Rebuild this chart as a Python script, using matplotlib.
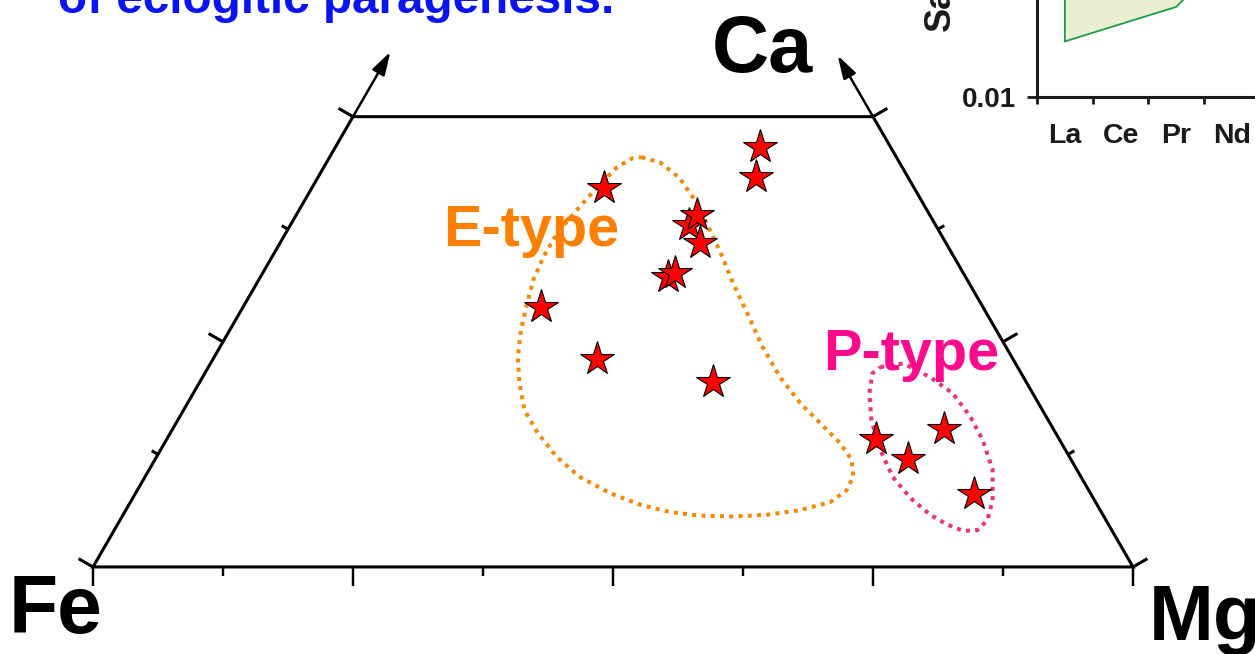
import numpy as np
import matplotlib.pyplot as plt

plt.rcParams['font.family'] = ['Liberation Sans', 'DejaVu Sans']
plt.rcParams['font.weight'] = 'bold'

# garnet inclusions, mol% Ca and Mg (Fe is the remainder)
star_ca = [46.6, 43.3, 42.1, 38.0, 39.1, 36.0, 32.2, 32.6, 28.9, 23.1, 20.5,
           14.2, 12.0, 15.3, 8.1]
star_mg = [40.8, 42.1, 28.1, 38.3, 38.5, 40.4, 39.2, 39.7, 28.6, 36.9, 49.4,
           68.2, 72.4, 74.2, 80.7]

# field outlines (Ca, Mg)
e_field_ca = [45.5, 44.9, 43.2, 41.0, 38.2, 34.9, 31.5, 28.2, 24.4, 21.1, 18.2,
              16.0, 13.8, 11.9, 10.0, 8.5, 7.2, 6.3, 5.8, 5.6, 5.7, 6.1, 6.9,
              8.2, 10.0, 12.2, 14.9, 17.4, 20.4, 23.3, 26.3, 29.3, 31.9, 34.4,
              37.1, 39.6, 42.2, 44.4, 45.4]
e_field_mg = [30.0, 32.1, 34.8, 37.2, 39.9, 42.9, 45.8, 48.8, 52.2, 55.5, 58.9,
              61.9, 64.9, 67.0, 68.1, 68.2, 67.3, 64.8, 61.9, 58.8, 55.5, 52.4,
              49.2, 45.6, 41.8, 38.5, 35.3, 32.8, 30.8, 29.2, 28.0, 27.1, 26.4,
              26.1, 26.1, 26.7, 27.4, 28.2, 29.2]
p_field_ca = [22.2, 22.6, 21.1, 19.3, 16.7, 14.1, 10.8, 7.4, 5.2, 4.1, 4.0, 4.7,
              5.8, 7.7, 10.0, 13.0, 16.3, 19.3, 21.5]
p_field_mg = [64.6, 66.6, 69.9, 73.0, 76.0, 78.5, 81.1, 82.8, 83.4, 83.0, 81.7,
              79.8, 77.6, 74.7, 71.9, 69.2, 66.7, 65.0, 64.2]

# REE envelope for the inset
ree = ['La', 'Ce', 'Pr', 'Nd']
ree_low = [0.032, 0.046, 0.066, 0.21]
ree_high = [3.0, 4.0, 5.0, 6.0]


def tern(ca, mg):
    ca = np.asarray(ca, float) / 100
    mg = np.asarray(mg, float) / 100
    return mg + ca / 2, ca * np.sqrt(3) / 2


fig = plt.figure(figsize=(12.55, 6.54), dpi=100)
ax = fig.add_axes([0, 0, 1, 1])
ax.set_xlim(-0.0894, 1.1173)
ax.set_ylim(-0.0837, 0.5452)
ax.axis('off')

lw = 2.2
# truncated triangle, Ca <= 50
frame = [tern(50, 0), tern(0, 0), tern(0, 100), tern(50, 50), tern(50, 0)]
ax.plot([p[0] for p in frame], [p[1] for p in frame], color='k', lw=lw,
        solid_joinstyle='miter', solid_capstyle='butt')

long_t, short_t = 0.016, 0.007
c30, s30 = np.cos(np.pi / 6), np.sin(np.pi / 6)
for v in np.arange(0, 100.1, 12.5):
    x, y = tern(0, v)
    d = 0.018 if v % 25 == 0 else 0.009
    ax.plot([x, x], [y, y - d], color='k', lw=lw * 0.8, solid_capstyle='butt')
for c in np.arange(0, 50.1, 12.5):
    d = long_t if c % 25 == 0 else short_t
    x, y = tern(c, 0)
    ax.plot([x, x - d * c30], [y, y + d * s30], color='k', lw=lw,
            solid_capstyle='butt')
    x, y = tern(c, 100 - c)
    ax.plot([x, x + d * c30], [y, y + d * s30], color='k', lw=lw,
            solid_capstyle='butt')

# arrows continuing the side axes towards Ca
arrow = dict(arrowstyle='-|>,head_length=1.0,head_width=0.3', color='k',
             lw=1.8, mutation_scale=14, shrinkA=0, shrinkB=0)
ax.annotate('', xy=tern(57.2, 0), xytext=tern(50, 0), arrowprops=arrow)
ax.annotate('', xy=tern(56.8, 100 - 56.8), xytext=tern(50, 50), arrowprops=arrow)

dots = (0, (1, 1.3))
ex, ey = tern(e_field_ca + e_field_ca[:1], e_field_mg + e_field_mg[:1])
ax.plot(ex, ey, color='#f28a0c', lw=2.9, ls=dots, dash_capstyle='butt')
px, py = tern(p_field_ca + p_field_ca[:1], p_field_mg + p_field_mg[:1])
ax.plot(px, py, color='#e8357a', lw=2.9, ls=dots, dash_capstyle='butt')

sx, sy = tern(star_ca, star_mg)
ax.plot(sx, sy, ls='none', marker='*', ms=25.5, mfc='#ff0000', mec='k', mew=0.8)

ax.text(0.337, 0.3087, 'E-type', color='#ff8000', fontsize=41.5,
        ha='left', va='baseline')
ax.text(0.7025, 0.1894, 'P-type', color='#ff0a8c', fontsize=41.5,
        ha='left', va='baseline')

ax.text(-0.081, -0.0635, 'Fe', fontsize=58, ha='left', va='baseline')
ax.text(0.595, 0.476, 'Ca', fontsize=57, ha='left', va='baseline')
ax.text(1.015, -0.0702, 'Mg', fontsize=56, ha='left', va='baseline')

ax.text(-0.0337, 0.5327, 'of eclogitic paragenesis.', color='#0a14f0',
        fontsize=34.3, ha='left', va='baseline')

# REE inset
ins = fig.add_axes([1037 / 1255, 557 / 654, 780 / 1255, 440 / 654])
xs = np.arange(len(ree)) + 0.5
ins.fill(np.r_[xs, xs[::-1]], np.r_[ree_low, ree_high[::-1]],
         facecolor='#e9efd3', edgecolor='#1e9b4a', lw=1.3)
ins.set_yscale('log')
ins.set_ylim(0.01, 100)
ins.set_xlim(0, 14)
ins.set_yticks([0.01])
ins.set_yticklabels(['0.01'])
ins.yaxis.set_minor_locator(plt.NullLocator())
ins.set_xticks(np.arange(len(ree) + 1))
ins.set_xticklabels([])
ins.set_xticks(xs, minor=True)
ins.set_xticklabels(ree, minor=True)
ins.tick_params(axis='x', which='major', length=5, width=2, color='#1a1a1a')
ins.tick_params(axis='x', which='minor', length=0, pad=19, labelsize=20.5,
                labelcolor='#1a1a1a')
ins.tick_params(axis='y', length=7, width=2, color='#1a1a1a', pad=8,
                labelsize=20, labelcolor='#1a1a1a')
for s in ['top', 'right']:
    ins.spines[s].set_visible(False)
for s in ['left', 'bottom']:
    ins.spines[s].set_linewidth(2.2)
    ins.spines[s].set_color('#1a1a1a')
ins.set_facecolor('none')
fig.text(940 / 1255, 1 - 31 / 654, 'Sample/Chondrite', rotation=90,
         fontsize=26, color='#1a1a1a', ha='center', va='bottom')

fig.savefig('out.png', dpi=100)
